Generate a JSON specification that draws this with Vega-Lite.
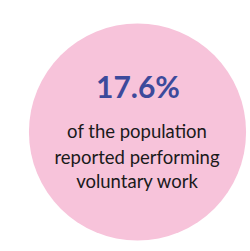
{
  "$schema": "https://vega.github.io/schema/vega-lite/v6.json",
  "width": 250,
  "height": 251,
  "autosize": {"type": "fit", "contains": "padding"},
  "padding": 0,
  "background": "white",
  "config": {"view": {"stroke": null}},
  "layer": [
    {
      "data": {"values": [{"x": 137.5, "y": 132}]},
      "mark": {"type": "point", "shape": "circle", "filled": true, "color": "#f7c3da", "opacity": 1, "size": 47144},
      "encoding": {
        "x": {"field": "x", "type": "quantitative", "scale": {"domain": [0, 250]}, "axis": null},
        "y": {"field": "y", "type": "quantitative", "scale": {"domain": [0, 251], "reverse": true}, "axis": null}
      }
    },
    {
      "data": {"values": [{"x": 138, "y": 98, "t": "17.6%"}]},
      "mark": {"type": "text", "font": "Lato", "fontWeight": "bold", "fontSize": 30, "color": "#3c4a9b", "baseline": "alphabetic", "align": "center"},
      "encoding": {
        "x": {"field": "x", "type": "quantitative", "scale": {"domain": [0, 250]}, "axis": null},
        "y": {"field": "y", "type": "quantitative", "scale": {"domain": [0, 251], "reverse": true}, "axis": null},
        "text": {"field": "t"}
      }
    },
    {
      "data": {"values": [
        {"x": 137, "y": 138, "t": "of the population"},
        {"x": 137, "y": 164, "t": "reported performing"},
        {"x": 137, "y": 188, "t": "voluntary work"}
      ]},
      "mark": {"type": "text", "font": "Lato", "fontSize": 18.5, "color": "#1a1a1a", "baseline": "alphabetic", "align": "center"},
      "encoding": {
        "x": {"field": "x", "type": "quantitative", "scale": {"domain": [0, 250]}, "axis": null},
        "y": {"field": "y", "type": "quantitative", "scale": {"domain": [0, 251], "reverse": true}, "axis": null},
        "text": {"field": "t"}
      }
    }
  ]
}
